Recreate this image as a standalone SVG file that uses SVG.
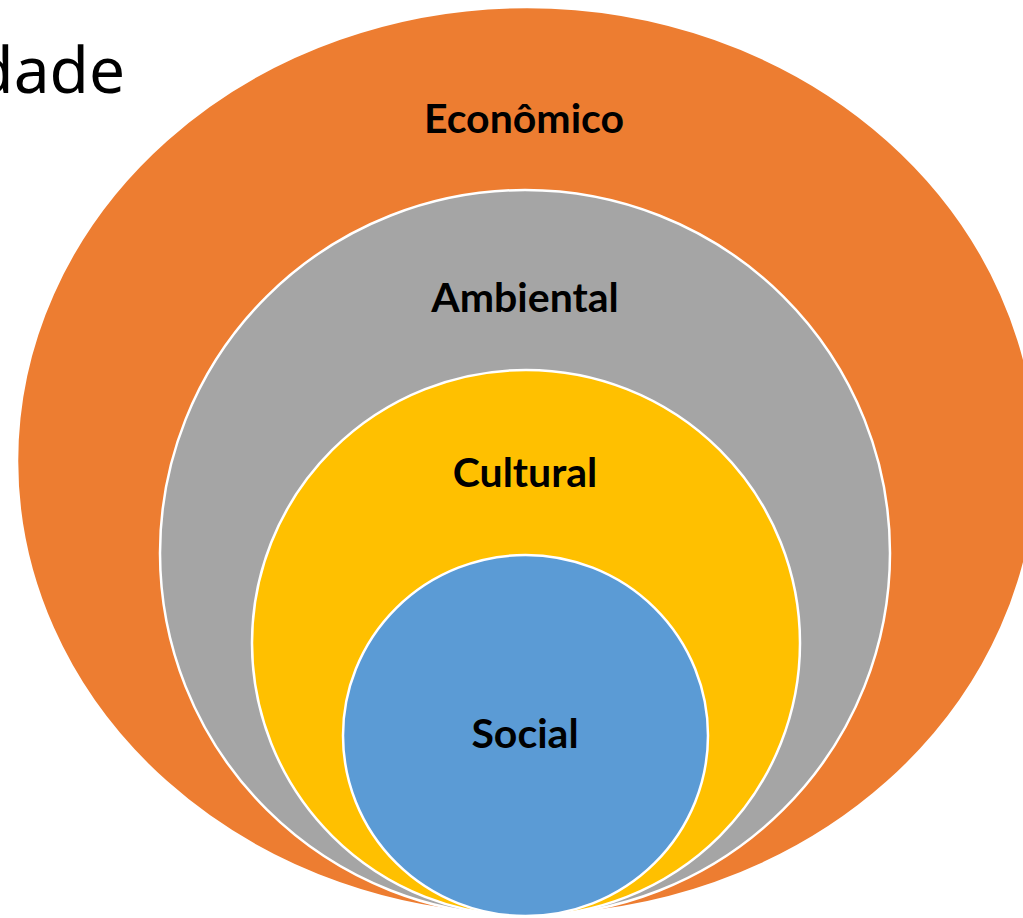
<svg xmlns="http://www.w3.org/2000/svg" width="1023" height="918" viewBox="0 0 1023 918">
<style>
.ring{stroke:#ffffff;stroke-width:2.5}
.lbl{font-family:Lato,"Open Sans","Liberation Sans",sans-serif;font-weight:bold;font-size:41px;fill:#000000;text-anchor:middle}
.title{font-family:"Noto Sans","Open Sans","Liberation Sans",sans-serif;font-size:64px;fill:#000000;text-anchor:end}
</style>
<rect width="1023" height="918" fill="#ffffff"/>
<text class="title" x="125" y="93">dade</text>
<g id="economico">
<ellipse class="ring" cx="527" cy="461" rx="510" ry="454" fill="#ED7D31"/>
<text class="lbl" x="524" y="133">Econômico</text>
</g>
<g id="ambiental">
<ellipse class="ring" cx="525" cy="553" rx="365" ry="363" fill="#A5A5A5"/>
<text class="lbl" x="525" y="312">Ambiental</text>
</g>
<g id="cultural">
<ellipse class="ring" cx="526" cy="643" rx="274" ry="273" fill="#FFC000"/>
<text class="lbl" x="525" y="487">Cultural</text>
</g>
<g id="social">
<ellipse class="ring" cx="525.5" cy="735.5" rx="182.5" ry="180.5" fill="#5B9BD5"/>
<text class="lbl" x="525" y="748">Social</text>
</g>
<g id="connectors"></g>
</svg>
